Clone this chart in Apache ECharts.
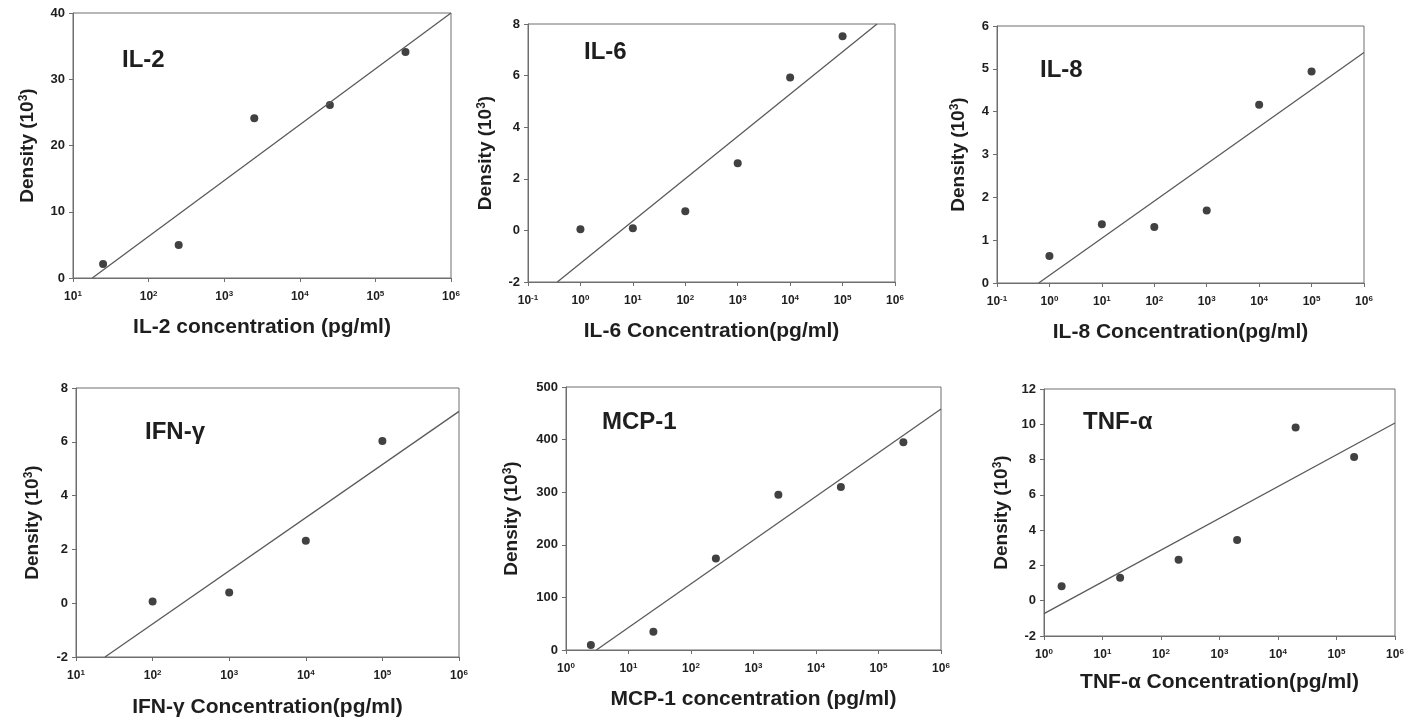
<!DOCTYPE html>
<html>
<head>
<meta charset="utf-8">
<script src="https://cdn.jsdelivr.net/npm/echarts@6/dist/echarts.min.js"></script>
<style>
html,body{margin:0;padding:0;background:#fff;}
#chart{width:1413px;height:725px;}
</style>
</head>
<body>
<div id="chart"></div>
<script>
// ---- data ----
const panelNames = ['IL-2', 'IL-6', 'IL-8', 'IFN-γ', 'MCP-1', 'TNF-α'];
const xAxisNames = [
  'IL-2 concentration (pg/ml)',
  'IL-6 Concentration(pg/ml)',
  'IL-8 Concentration(pg/ml)',
  'IFN-γ Concentration(pg/ml)',
  'MCP-1 concentration (pg/ml)',
  'TNF-α Concentration(pg/ml)'
];
const yAxisName = 'Density (10{s|3})';

const il2X = [25, 250, 2500, 25000, 250000];
const il2Y = [2.1, 5.0, 24.1, 26.1, 34.1];
const il2FitX = [18, 1000000];
const il2FitY = [0, 40];

const il6X = [1, 10, 100, 1000, 10000, 100000];
const il6Y = [0.04, 0.08, 0.74, 2.6, 5.93, 7.53];
const il6FitX = [0.362, 454000];
const il6FitY = [-2, 8];

const il8X = [1, 10, 100, 1000, 10000, 100000];
const il8Y = [0.63, 1.37, 1.31, 1.69, 4.16, 4.94];
const il8FitX = [0.624, 1000000];
const il8FitY = [0, 5.38];

const ifnX = [100, 1000, 10000, 100000];
const ifnY = [0.06, 0.40, 2.32, 6.03];
const ifnFitX = [23.9, 1000000];
const ifnFitY = [-2, 7.13];

const mcpX = [2.5, 25, 250, 2500, 25000, 250000];
const mcpY = [9.5, 34.8, 174, 295, 310, 395];
const mcpFitX = [3.06, 1000000];
const mcpFitY = [0, 458];

const tnfX = [2, 20, 200, 2000, 20000, 200000];
const tnfY = [0.82, 1.30, 2.32, 3.44, 9.82, 8.15];
const tnfFitX = [1, 1000000];
const tnfFitY = [-0.73, 10.07];

// axis ranges
const xMin = [10, 0.1, 0.1, 10, 1, 1];
const xMax = [1e6, 1e6, 1e6, 1e6, 1e6, 1e6];
const yMin = [0, -2, 0, -2, 0, -2];
const yMax = [40, 8, 6, 8, 500, 12];
const yStep = [10, 2, 1, 2, 100, 2];

// ---- layout ----
const grids = [
  {left: 73, top: 13, width: 378, height: 265},
  {left: 528, top: 24, width: 367, height: 258},
  {left: 997, top: 26, width: 367, height: 257},
  {left: 76, top: 388, width: 383, height: 269},
  {left: 566, top: 387, width: 375, height: 263},
  {left: 1044, top: 389, width: 351, height: 247}
];
const titlePos = [
  {left: 122, top: 48},
  {left: 584, top: 40},
  {left: 1040, top: 58},
  {left: 145, top: 420},
  {left: 602, top: 410},
  {left: 1083, top: 410}
];
const yNameGap = [36, 33, 29, 34, 45, 33];
const xNameGap = [39, 39, 39, 40, 39, 36];

const pointsX = [il2X, il6X, il8X, ifnX, mcpX, tnfX];
const pointsY = [il2Y, il6Y, il8Y, ifnY, mcpY, tnfY];
const fitsX = [il2FitX, il6FitX, il8FitX, ifnFitX, mcpFitX, tnfFitX];
const fitsY = [il2FitY, il6FitY, il8FitY, ifnFitY, mcpFitY, tnfFitY];

const FONT = '"Liberation Sans", Arial, sans-serif';
const TXT = '#1e1e1e';
const AX = '#6e6e6e';

const option = {
  backgroundColor: '#ffffff',
  animation: false,
  title: [], grid: [], xAxis: [], yAxis: [], series: []
};

for (let i = 0; i < 6; i++) {
  const g = grids[i];
  option.grid.push({
    left: g.left, top: g.top, width: g.width, height: g.height,
    show: true, borderColor: AX, borderWidth: 1, backgroundColor: 'transparent'
  });
  option.title.push({
    text: panelNames[i], left: titlePos[i].left, top: titlePos[i].top, padding: 0,
    textStyle: {fontFamily: FONT, fontSize: 24, fontWeight: 'bold', color: TXT}
  });
  option.xAxis.push({
    type: 'log', logBase: 10, gridIndex: i, min: xMin[i], max: xMax[i],
    name: xAxisNames[i], nameLocation: 'middle', nameGap: xNameGap[i],
    nameTextStyle: {fontFamily: FONT, fontSize: 21, fontWeight: 'bold', color: TXT},
    axisLine: {onZero: false, lineStyle: {color: AX, width: 1}},
    axisTick: {show: true, length: 4, lineStyle: {color: AX}},
    splitLine: {show: false},
    minorTick: {show: false},
    axisLabel: {
      margin: 12, showMinLabel: true, showMaxLabel: true,
      formatter: function (v) {
        const e = Math.round(Math.log10(v));
        return '{b|10}{s|' + e + '}';
      },
      rich: {
        b: {fontFamily: FONT, fontSize: 12, fontWeight: 'bold', color: TXT, lineHeight: 14},
        s: {fontFamily: FONT, fontSize: 8, fontWeight: 'bold', color: TXT, verticalAlign: 'top', lineHeight: 8}
      }
    }
  });
  option.yAxis.push({
    type: 'value', gridIndex: i, min: yMin[i], max: yMax[i], interval: yStep[i],
    name: yAxisName, nameLocation: 'middle', nameGap: yNameGap[i],
    nameTextStyle: {
      fontFamily: FONT, fontSize: 19, fontWeight: 'bold', color: TXT,
      rich: {s: {fontFamily: FONT, fontSize: 12, fontWeight: 'bold', color: TXT, verticalAlign: 'top', lineHeight: 10}}
    },
    axisLine: {show: true, lineStyle: {color: AX, width: 1}},
    axisTick: {show: true, length: 4, lineStyle: {color: AX}},
    splitLine: {show: false},
    axisLabel: {margin: 8, fontFamily: FONT, fontSize: 13, fontWeight: 'bold', color: TXT}
  });
  const fit = fitsX[i].map((x, k) => [x, fitsY[i][k]]);
  const pts = pointsX[i].map((x, k) => [x, pointsY[i][k]]);
  option.series.push({
    type: 'line', xAxisIndex: i, yAxisIndex: i, data: fit,
    showSymbol: false, symbol: 'none', silent: true,
    lineStyle: {color: '#5a5a5a', width: 1.3}
  });
  option.series.push({
    type: 'scatter', xAxisIndex: i, yAxisIndex: i, data: pts,
    symbol: 'circle', symbolSize: 8, itemStyle: {color: '#111111'}
  });
}

const chart = echarts.init(document.getElementById('chart'), null, {renderer: 'canvas'});
chart.setOption(option);
</script>
</body>
</html>
